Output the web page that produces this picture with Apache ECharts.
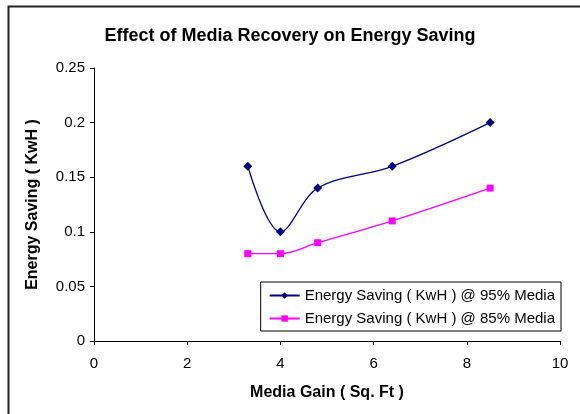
<!DOCTYPE html>
<html>
<head>
<meta charset="utf-8">
<script src="https://cdn.jsdelivr.net/npm/echarts@6/dist/echarts.min.js"></script>
<style>
  html, body { margin: 0; padding: 0; background: #fff; }
  #chart { width: 580px; height: 414px; }
</style>
</head>
<body>
<div id="chart"></div>
<script>
// Media gain (sq. ft) and energy saving (kWh) at two media levels
const mediaGain = [3.3, 4.0, 4.8, 6.4, 8.5];
const saving95 = [0.16, 0.10, 0.14, 0.16, 0.20];
const saving85 = [0.08, 0.08, 0.09, 0.11, 0.14];
const seriesNames = ['Energy Saving ( KwH ) @ 95% Media', 'Energy Saving ( KwH ) @ 85% Media'];

const font = 'Arial, "Liberation Sans", sans-serif';
const chart = echarts.init(document.getElementById('chart'), null, { renderer: 'canvas' });

chart.setOption({
  animation: false,
  backgroundColor: '#fff',
  title: {
    text: 'Effect of Media Recovery on Energy Saving',
    left: 'center',
    top: 22,
    textStyle: { fontFamily: font, fontSize: 18, fontWeight: 'bold', color: '#000' }
  },
  graphic: [{
    type: 'rect',
    shape: { x: 8.5, y: 6.5, width: 580, height: 420 },
    style: { fill: 'none', stroke: '#222', lineWidth: 2 },
    silent: true
  }],
  grid: { left: 94, right: 20, top: 68, bottom: 73 },
  legend: {
    orient: 'vertical',
    right: 19,
    top: 282,
    padding: [6, 6, 5, 8],
    itemGap: 8,
    itemWidth: 30,
    itemHeight: 8,
    borderColor: '#000',
    borderWidth: 1,
    backgroundColor: '#fff',
    textStyle: { fontFamily: font, fontSize: 15, color: '#000' },
    data: seriesNames
  },
  xAxis: {
    type: 'value',
    min: 0, max: 10, interval: 2,
    name: 'Media Gain ( Sq. Ft )',
    nameLocation: 'middle',
    nameGap: 44,
    nameTextStyle: { fontFamily: font, fontSize: 16, fontWeight: 'bold', color: '#000' },
    axisLine: { show: true, lineStyle: { color: '#000', width: 1 } },
    axisTick: { show: true, length: 4, lineStyle: { color: '#000' } },
    axisLabel: { fontFamily: font, fontSize: 15, color: '#000', margin: 15 },
    splitLine: { show: false }
  },
  yAxis: {
    type: 'value',
    min: 0, max: 0.25, interval: 0.05,
    name: 'Energy Saving ( KwH )',
    nameLocation: 'middle',
    nameGap: 53,
    nameTextStyle: { fontFamily: font, fontSize: 16, fontWeight: 'bold', color: '#000' },
    axisLine: { show: true, lineStyle: { color: '#000', width: 1 } },
    axisTick: { show: true, length: 4, lineStyle: { color: '#000' } },
    axisLabel: { fontFamily: font, fontSize: 15, color: '#000', margin: 9,
      formatter: v => String(+v.toFixed(2)) },
    splitLine: { show: false }
  },
  series: [
    {
      name: seriesNames[0],
      type: 'line',
      smooth: 0.35,
      data: mediaGain.map((x, i) => [x, saving95[i]]),
      symbol: 'diamond',
      symbolSize: 9,
      itemStyle: { color: '#000080' },
      lineStyle: { color: '#000080', width: 1.3 }
    },
    {
      name: seriesNames[1],
      type: 'line',
      smooth: 0.35,
      data: mediaGain.map((x, i) => [x, saving85[i]]),
      symbol: 'rect',
      symbolSize: 7,
      itemStyle: { color: '#ff00ff' },
      lineStyle: { color: '#ff00ff', width: 1.3 }
    }
  ]
});
</script>
</body>
</html>
